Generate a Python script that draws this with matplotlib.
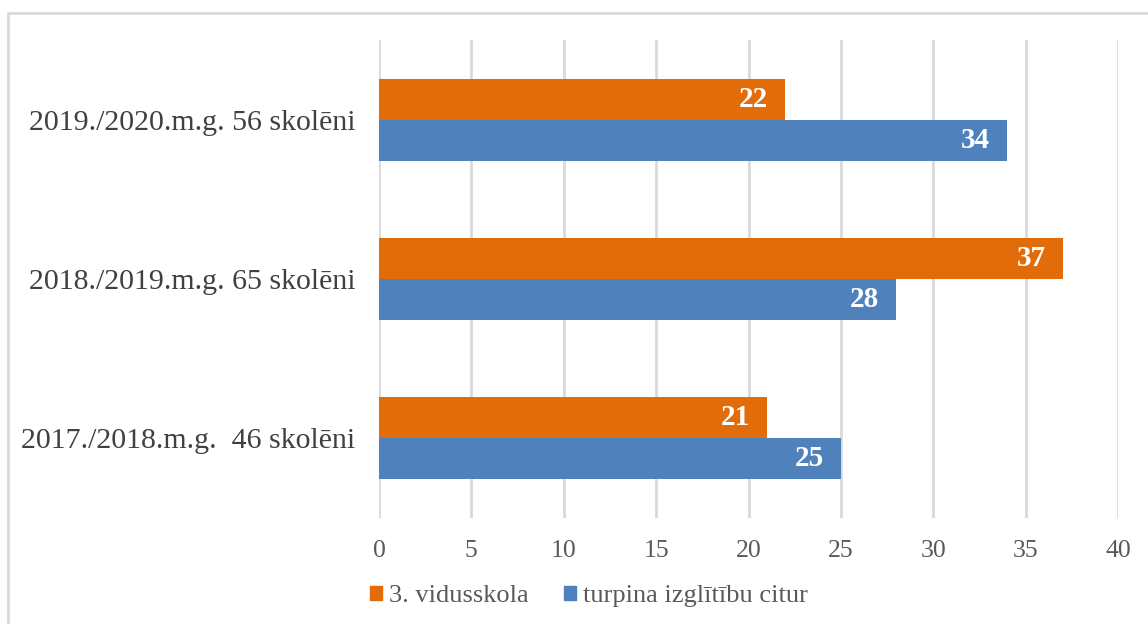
import numpy as np
import matplotlib.pyplot as plt
from matplotlib.patches import Rectangle, Patch

# dati
categories = ["2017./2018.m.g.  46 skolēni", "2018./2019.m.g. 65 skolēni", "2019./2020.m.g. 56 skolēni"]
vidusskola = [21, 37, 22]
citur = [25, 28, 34]
series_names = ["3. vidusskola", "turpina izglītību citur"]
xticks = [0, 5, 10, 15, 20, 25, 30, 35, 40]

orange = '#E36C0A'
blue = '#4F81BD'
grid_col = '#D9D9D9'

plt.rcParams['font.family'] = ['Liberation Serif', 'DejaVu Serif']

fig = plt.figure(figsize=(11.48, 6.24), dpi=100, facecolor='w')
ax = fig.add_axes([379/1148, 1-518/624, (1118-379)/1148, (518-40)/624])

y = np.arange(len(categories))
h = 0.258
b1 = ax.barh(y + h/2, vidusskola, height=h, color=orange, zorder=2)
b2 = ax.barh(y - h/2, citur, height=h, color=blue, zorder=2)

# vērtības joslu galos
for bars in (b1, b2):
    for rect in bars:
        w = rect.get_width()
        ax.annotate(str(int(w)), xy=(w, rect.get_y() + rect.get_height()/2),
                    xytext=(-17, 0), textcoords='offset pixels',
                    ha='right', va='center', color='white', fontsize=21, fontweight='bold')

ax.set_xlim(0, 40)
ax.set_ylim(-0.5, 2.5)
ax.set_xticks(xticks)
ax.set_yticks(y)
ax.set_yticklabels(categories)
ax.xaxis.grid(True, color=grid_col, linewidth=2, zorder=0)
ax.set_axisbelow(True)
for s in ax.spines.values():
    s.set_visible(False)
ax.tick_params(axis='x', length=0, pad=16, labelsize=18.5, labelcolor='#595959')
ax.tick_params(axis='y', length=0, pad=17, labelsize=21.5, labelcolor='#404040')

handles = [Patch(color=orange), Patch(color=blue)]
fig.legend(handles, series_names, loc='center left', bbox_to_anchor=(357/1148, 1-596/624),
           ncol=2, frameon=False, fontsize=19, labelcolor='#595959', borderpad=0,
           handlelength=0.45, handleheight=0.45, handletextpad=0.26, columnspacing=1.35)

# rāmis ap diagrammu
fig.patches.append(Rectangle((8/1148, -0.2), 2, 1.2 - 13/624, transform=fig.transFigure,
                             fill=False, edgecolor=grid_col, linewidth=2))

fig.savefig('out.png', dpi=100)
